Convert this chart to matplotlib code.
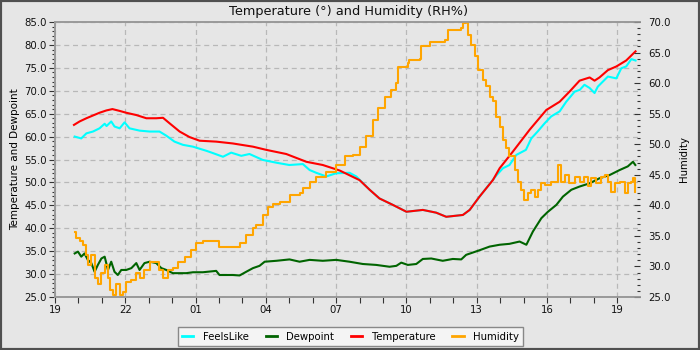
import numpy as np
import pandas as pd
import matplotlib
matplotlib.use("Agg")
import matplotlib.pyplot as plt
import matplotlib.dates as mdates
from matplotlib.ticker import MultipleLocator, FormatStrFormatter
from matplotlib.lines import Line2D
from matplotlib.patches import Rectangle

# ---------------- data (hours after 19:00 on first day) ----------------
start_time = "2024-03-18 19:00"

temp_hours = [0.81, 1.05, 1.34, 1.62, 1.90, 2.19, 2.45, 2.76, 3.04, 3.47, 3.90, 4.32, 4.61, 4.89,
              5.32, 5.74, 6.17, 6.88, 7.59, 8.45, 9.02, 9.87, 10.73, 11.43, 12.15, 13.0, 13.43,
              13.85, 14.42, 15.0, 15.7, 16.27, 16.7, 17.41, 17.7, 18.12, 18.69, 18.98, 19.4,
              19.54, 20.26, 20.97, 21.54, 21.96, 22.39, 22.82, 23.03, 23.24, 23.6, 23.96,
              24.38, 24.78]
temp_vals = [62.55, 63.3, 64.0, 64.6, 65.2, 65.7, 66.0, 65.6, 65.2, 64.7, 64.0, 64.0, 64.1, 62.9,
             61.1, 59.9, 59.1, 58.9, 58.5, 57.8, 57.1, 56.2, 54.5, 53.8, 52.6, 50.5, 48.4,
             46.5, 45.1, 43.6, 44.0, 43.4, 42.5, 42.9, 44.0, 46.9, 50.5, 53.1, 55.8,
             56.7, 61.5, 65.8, 67.6, 69.8, 72.2, 72.9, 72.2, 72.9, 74.5, 75.3,
             76.6, 78.6]

feels_hours = [0.84, 1.12, 1.34, 1.62, 1.90, 2.12, 2.2, 2.4, 2.54, 2.76, 2.97, 3.18, 3.61, 4.04,
               4.46, 4.75, 5.1, 5.46, 5.89, 6.46, 6.74, 7.17, 7.52, 7.95, 8.3, 8.87, 9.45, 10.0,
               10.58, 10.87, 11.15, 11.58, 12.0, 12.57, 12.86, 13.43, 13.85, 14.42, 15.0, 15.7,
               16.27, 16.7, 17.41, 17.7, 18.12, 18.85, 19.12, 19.4, 19.69, 20.1, 20.33, 20.6,
               20.9, 21.18, 21.54, 21.82, 22.18, 22.4, 22.6, 22.82, 23.03, 23.17, 23.6, 23.96,
               24.17, 24.38, 24.6, 24.78]
feels_vals = [60.0, 59.6, 60.7, 61.1, 61.8, 62.8, 62.3, 63.3, 62.2, 61.8, 63.1, 61.8, 61.3, 61.1,
              61.1, 60.2, 58.9, 58.2, 57.8, 56.9, 56.4, 55.6, 56.5, 55.8, 56.2, 54.9, 54.3, 53.8,
              54.0, 52.7, 52.1, 51.3, 52.0, 52.1, 51.3, 48.4, 46.5, 45.1, 43.6, 44.0,
              43.4, 42.5, 42.9, 44.0, 46.9, 51.6, 53.1, 53.8, 56.0, 57.1, 59.6, 61.1,
              62.9, 64.4, 65.5, 67.6, 69.8, 70.2, 71.3, 70.6, 69.5, 70.9, 73.1, 72.7,
              74.9, 75.3, 76.9, 76.6]

dew_hours = [0.84, 0.98, 1.12, 1.26, 1.40, 1.55, 1.69, 1.83, 1.98, 2.12, 2.26, 2.40, 2.54, 2.68,
             2.83, 3.04, 3.26, 3.47, 3.61, 3.82, 4.04, 4.32, 4.54, 4.75, 5.03, 5.32, 5.6, 5.89,
             6.31, 6.88, 7.02, 7.59, 7.88, 8.16, 8.45, 8.73, 8.95, 9.45, 10.01, 10.44, 10.87,
             11.43, 12.0, 12.57, 13.14, 13.71, 14.28, 14.57, 14.78, 15.06, 15.42, 15.7, 16.06,
             16.55, 16.98, 17.34, 17.55, 18.12, 18.55, 18.98, 19.4, 19.83, 20.12, 20.4, 20.76,
             21.04, 21.4, 21.68, 22.04, 22.39, 22.82, 23.24, 23.67, 24.1, 24.45, 24.67, 24.77]
dew_vals = [34.5, 34.9, 33.8, 34.5, 33.1, 32.4, 30.5, 32.0, 33.4, 33.8, 30.9, 32.7, 30.5, 29.8,
            30.9, 30.9, 31.3, 32.4, 30.9, 32.4, 32.7, 32.4, 31.3, 30.9, 30.2, 30.2, 30.2, 30.4,
            30.4, 30.7, 29.8, 29.8, 29.7, 30.5, 31.3, 31.8, 32.7, 32.9, 33.2, 32.7, 33.1,
            32.9, 33.1, 32.7, 32.2, 32.0, 31.6, 31.8, 32.5, 32.0, 32.2, 33.3, 33.4,
            32.9, 33.3, 33.2, 34.2, 35.2, 36.0, 36.4, 36.6, 37.1, 36.4, 39.3, 42.2,
            43.6, 45.1, 46.9, 48.4, 49.1, 49.8, 50.9, 51.6, 52.7, 53.5, 54.5, 53.8]

hum_hours = [0.84, 0.88, 1.05, 1.19, 1.34, 1.40, 1.55, 1.69, 1.83, 1.98, 2.12, 2.26, 2.33, 2.47,
             2.62, 2.76, 2.90, 3.04, 3.26, 3.47, 3.61, 3.82, 4.04, 4.32, 4.46, 4.61, 4.82, 5.03,
             5.25, 5.53, 5.82, 6.03, 6.31, 6.88, 7.02, 7.45, 7.88, 8.16, 8.45, 8.59, 8.87, 9.09,
             9.30, 9.59, 10.01, 10.44, 10.58, 10.87, 11.15, 11.58, 12.0, 12.36, 12.71, 13.0,
             13.28, 13.57, 13.78, 14.07, 14.35, 14.57, 14.64, 15.06, 15.13, 15.56, 15.63, 15.99,
             16.63, 16.77, 17.34, 17.41, 17.55, 17.63, 17.77, 17.91, 18.05, 18.26, 18.41, 18.55,
             18.69, 18.83, 18.98, 19.12, 19.26, 19.37, 19.62, 19.76, 19.9, 20.04, 20.18, 20.33,
             20.47, 20.61, 20.76, 20.9, 21.18, 21.46, 21.61, 21.75, 21.96, 22.18, 22.39, 22.6,
             22.75, 22.89, 23.1, 23.32, 23.46, 23.6, 23.75, 23.89, 24.1, 24.32, 24.45, 24.6,
             24.67, 24.77]
hum_vals = [35.7, 34.6, 34.1, 33.5, 31.9, 30.2, 31.9, 28.1, 27.2, 28.9, 30.2, 28.1, 26.1, 25.3,
            27.2, 25.3, 25.9, 27.5, 27.8, 28.9, 28.1, 29.4, 30.8, 30.8, 29.4, 28.1, 29.4, 29.7,
            30.8, 31.6, 32.7, 33.8, 34.1, 34.1, 33.2, 33.2, 33.8, 35.2, 36.3, 36.8, 38.4, 39.8,
            40.3, 40.6, 41.7, 42.0, 42.8, 43.9, 44.7, 45.5, 46.6, 48.0, 48.3, 49.6,
            51.3, 54.0, 55.9, 57.8, 58.9, 60.0, 62.7, 63.3, 63.8, 63.9, 66.0, 66.8,
            67.1, 68.7, 69.0, 69.8, 70.0, 67.9, 66.3, 64.4, 62.2, 60.5, 59.5, 57.8,
            57.0, 54.5, 52.9, 50.7, 49.4, 48.0, 45.8, 43.9, 42.5, 40.9, 42.0, 42.5,
            41.4, 42.5, 43.6, 43.3, 43.9, 46.6, 43.9, 45.0, 43.6, 44.7, 43.9, 44.7,
            43.1, 44.4, 43.6, 44.7, 45.0, 43.9, 42.2, 43.6, 43.9, 42.0, 43.6, 43.9,
            44.4, 42.2]

series_names = ["FeelsLike", "Dewpoint", "Temperature", "Humidity"]
series_colors = ["#00ffff", "#006400", "#ff0000", "#ffa500"]
title_text = "Temperature (°) and Humidity (RH%)"
left_label = "Temperature and Dewpoint"
right_label = "Humidity"

# ---------------- plotting ----------------
base = pd.Timestamp(start_time)
def to_time(hours):
    return base + pd.to_timedelta(np.asarray(hours), unit="h")

bg = "#e6e6e6"
fig = plt.figure(figsize=(7, 3.5), dpi=100, facecolor=bg)
ax = fig.add_axes([55 / 700, 1 - 297 / 350, 585 / 700, 275 / 350])
ax.set_facecolor(bg)
ax2 = ax.twinx()

lw = 1.5
ax.plot(to_time(feels_hours), feels_vals, color=series_colors[0], lw=lw, zorder=3)
ax.plot(to_time(dew_hours), dew_vals, color=series_colors[1], lw=lw, zorder=4)
ax.plot(to_time(temp_hours), temp_vals, color=series_colors[2], lw=lw, zorder=5)
ax2.plot(to_time(hum_hours), hum_vals, color=series_colors[3], lw=lw, drawstyle="steps-post")

ax.set_xlim(base, base + pd.Timedelta(hours=24.97))
ax.set_ylim(25, 85)
ax2.set_ylim(25, 70)

ax.xaxis.set_major_locator(mdates.HourLocator(byhour=[1, 4, 7, 10, 13, 16, 19, 22]))
ax.xaxis.set_minor_locator(mdates.HourLocator())
ax.xaxis.set_major_formatter(mdates.DateFormatter("%H"))

ax.yaxis.set_major_locator(MultipleLocator(5))
ax.yaxis.set_minor_locator(MultipleLocator(1))
ax.yaxis.set_major_formatter(FormatStrFormatter("%.1f"))
ax2.yaxis.set_major_locator(MultipleLocator(5))
ax2.yaxis.set_minor_locator(MultipleLocator(1))
ax2.yaxis.set_major_formatter(FormatStrFormatter("%.1f"))

spine_c = "#999999"
for a in (ax, ax2):
    for s in a.spines.values():
        s.set_color(spine_c)
        s.set_linewidth(1.2)
    a.spines["right"].set_visible(False)

fs = 7.3
ax.tick_params(axis="both", which="major", labelsize=fs, color="#333333", length=4, width=0.8, labelcolor="#111111", pad=2)
ax.tick_params(axis="y", which="minor", color="#333333", length=2, width=0.8)
ax.tick_params(axis="x", which="minor", color="#333333", length=4, width=0.8)
ax2.tick_params(axis="y", which="major", labelsize=fs, color="#333333", length=4, width=0.8,
                direction="in", labelcolor="#111111", pad=6)
ax2.tick_params(axis="y", which="minor", color="#333333", length=2, width=0.8, direction="in")

ax.grid(True, which="major", color="#b8b8b8", linestyle=(0, (4, 3)), linewidth=0.9)
ax.set_axisbelow(True)

ax.set_ylabel(left_label, fontsize=7.5, labelpad=3)
ax2.set_ylabel(right_label, fontsize=7.3, labelpad=6)
fig.text(349 / 700, 1 - 11 / 350, title_text, ha="center", va="center", fontsize=9.3, color="#111111")

handles = [Line2D([], [], color=c, lw=2) for c in series_colors]
leg = fig.legend(handles, series_names, loc="center", bbox_to_anchor=(350.5 / 700, 1 - 336.5 / 350),
                 ncol=4, fontsize=fs, frameon=True, fancybox=False, framealpha=1,
                 facecolor="#f4f4f4", edgecolor="#888888", handlelength=1.1, handletextpad=0.9,
                 columnspacing=1.7, borderpad=0.45)
leg.get_frame().set_linewidth(1.0)

fig.patches.append(Rectangle((0, 0), 1, 1, transform=fig.transFigure, fill=False,
                             edgecolor="#505050", linewidth=3, zorder=10))

fig.savefig("out.png", dpi=100, facecolor=bg)
